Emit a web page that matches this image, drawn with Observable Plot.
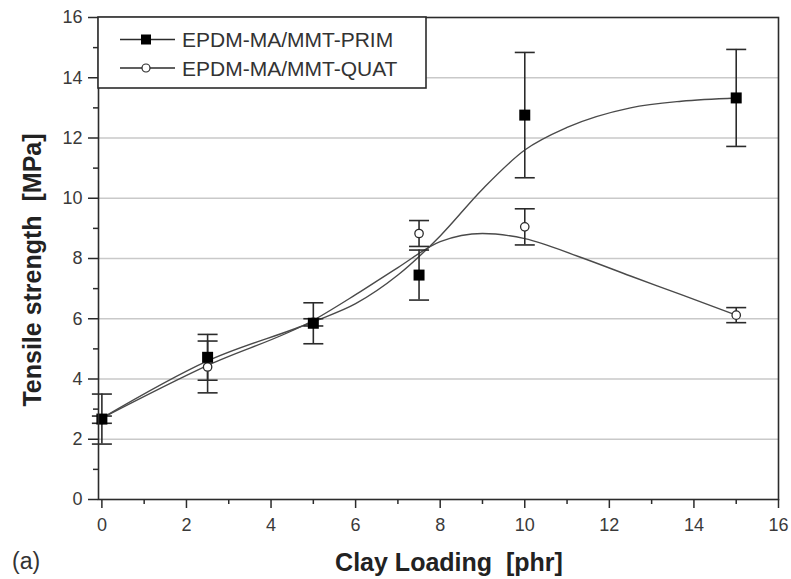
<!DOCTYPE html>
<html>
<head>
<meta charset="utf-8">
<script src="https://cdn.jsdelivr.net/npm/d3@7"></script>
<script src="https://cdn.jsdelivr.net/npm/@observablehq/plot@0.6"></script>
<style>
  html, body { margin: 0; padding: 0; background: white; }
  #chart { width: 791px; height: 579px; }
  text { white-space: pre; }
</style>
</head>
<body>
<div id="chart"></div>
<script>
// ---- data ----
const loading = [0, 2.5, 5, 7.5, 10, 15];
const primValues = [2.67, 4.72, 5.85, 7.45, 12.76, 13.33];
const primErrors = [0.83, 0.76, 0.68, 0.83, 2.08, 1.61];
const quatValues = [2.65, 4.40, 5.88, 8.83, 9.05, 6.12];
const quatErrors = [0.12, 0.86, 0.12, 0.43, 0.60, 0.25];

// smoothed fit curves
const primCurveX = [0, 2.5, 5, 6, 7, 8, 9, 10, 11, 12.5, 13.7, 15];
const primCurveY = [2.7, 4.6, 5.9, 6.5, 7.45, 8.75, 10.3, 11.6, 12.35, 13.0, 13.22, 13.33];
const quatCurveX = [0, 2.5, 5, 6, 7, 8, 9, 10, 11.3, 12.5, 13.7, 15];
const quatCurveY = [2.7, 4.45, 5.95, 6.8, 7.7, 8.56, 8.83, 8.66, 8.05, 7.42, 6.8, 6.12];

const seriesNames = ["EPDM-MA/MMT-PRIM", "EPDM-MA/MMT-QUAT"];
const xTicks = [0, 2, 4, 6, 8, 10, 12, 14, 16];
const xMinorTicks = [1, 3, 5, 7, 9, 11, 13, 15];
const yTicks = [0, 2, 4, 6, 8, 10, 12, 14, 16];
const yMinorTicks = [1, 3, 5, 7, 9, 11, 13, 15];
const yGridLines = [2, 4, 6, 8, 10, 12, 14];
const xTitle = "Clay Loading  [phr]";
const yTitle = "Tensile strength  [MPa]";
const panelTag = "(a)";

// ---- tables built from the arrays ----
const prim = loading.map((x, i) => ({x, y: primValues[i], lo: primValues[i] - primErrors[i], hi: primValues[i] + primErrors[i]}));
const quat = loading.map((x, i) => ({x, y: quatValues[i], lo: quatValues[i] - quatErrors[i], hi: quatValues[i] + quatErrors[i]}));
const primCurve = primCurveX.map((x, i) => ({x, y: primCurveY[i]}));
const quatCurve = quatCurveX.map((x, i) => ({x, y: quatCurveY[i]}));

const capSymbol = { draw(ctx) { ctx.moveTo(-10, 0); ctx.lineTo(10, 0); } };

const ink = "#2b2b2b";
const curveInk = "#4a4a4a";

const chart = Plot.plot({
  width: 791,
  height: 579,
  marginLeft: 98,
  marginRight: 13,
  marginTop: 17,
  marginBottom: 80,
  style: { fontFamily: "'Liberation Sans', Arial, sans-serif", background: "white", color: ink },
  x: { domain: [-0.08, 16] },
  y: { domain: [0, 16] },
  marks: [
    Plot.gridY(yGridLines, { stroke: "#c9c9c9", strokeOpacity: 1, strokeWidth: 1.5 }),
    Plot.axisX(xTicks, { tickSize: 9, tickPadding: 10, fontSize: 18, label: null, strokeWidth: 1.5, fill: "#3a3a3a" }),
    Plot.axisX(xMinorTicks, { tickSize: 5, tickFormat: () => "", label: null, strokeWidth: 1.5 }),
    Plot.axisY(yTicks, { tickSize: 10, tickPadding: 6, fontSize: 18, label: null, strokeWidth: 1.5, fill: "#3a3a3a" }),
    Plot.axisY(yMinorTicks, { tickSize: 5, tickFormat: () => "", label: null, strokeWidth: 1.5 }),
    Plot.line(quatCurve, { x: "x", y: "y", curve: "monotone-x", stroke: curveInk, strokeWidth: 1.4 }),
    Plot.line(primCurve, { x: "x", y: "y", curve: "monotone-x", stroke: curveInk, strokeWidth: 1.4 }),
    Plot.ruleX(quat, { x: "x", y1: "lo", y2: "hi", stroke: ink, strokeWidth: 1.6 }),
    Plot.dot(quat, { x: "x", y: "lo", symbol: capSymbol, stroke: ink, strokeWidth: 1.6 }),
    Plot.dot(quat, { x: "x", y: "hi", symbol: capSymbol, stroke: ink, strokeWidth: 1.6 }),
    Plot.ruleX(prim, { x: "x", y1: "lo", y2: "hi", stroke: ink, strokeWidth: 1.6 }),
    Plot.dot(prim, { x: "x", y: "lo", symbol: capSymbol, stroke: ink, strokeWidth: 1.6 }),
    Plot.dot(prim, { x: "x", y: "hi", symbol: capSymbol, stroke: ink, strokeWidth: 1.6 }),
    Plot.dot(quat, { x: "x", y: "y", symbol: "circle", r: 4.2, fill: "white", stroke: ink, strokeWidth: 1.3 }),
    Plot.dot(prim, { x: "x", y: "y", symbol: "square", r: 6.2, fill: "black", stroke: "none" }),
    Plot.frame({ stroke: ink, strokeWidth: 1.6 })
  ]
});

document.getElementById("chart").appendChild(chart);

// ---- legend and titles ----
const svg = d3.select(chart);
const leg = svg.append("g").attr("text-anchor", "start");
leg.append("rect").attr("x", 98).attr("y", 17).attr("width", 328).attr("height", 71)
  .attr("fill", "white").attr("stroke", ink).attr("stroke-width", 1.6);
const rowsY = [39.5, 68];
seriesNames.forEach((name, i) => {
  const y = rowsY[i];
  leg.append("line").attr("x1", 120).attr("x2", 175).attr("y1", y).attr("y2", y)
    .attr("stroke", ink).attr("stroke-width", 1.5);
  if (i === 0) {
    leg.append("rect").attr("x", 141).attr("y", y - 5).attr("width", 10).attr("height", 10).attr("fill", "black");
  } else {
    leg.append("circle").attr("cx", 146).attr("cy", y).attr("r", 4).attr("fill", "white")
      .attr("stroke", ink).attr("stroke-width", 1.2);
  }
  leg.append("text").attr("x", 182).attr("y", y).attr("dy", "0.36em")
    .attr("text-anchor", "start").attr("font-size", 21).attr("fill", "#333").text(name);
});

svg.append("text").attr("x", 449).attr("y", 562).attr("dy", "0.36em")
  .attr("text-anchor", "middle").attr("font-size", 25).attr("font-weight", "bold")
  .attr("fill", "#222").text(xTitle);
svg.append("text").attr("transform", "translate(32,270) rotate(-90)").attr("dy", "0.36em")
  .attr("text-anchor", "middle").attr("font-size", 25).attr("font-weight", "bold")
  .attr("fill", "#222").text(yTitle);
svg.append("text").attr("x", 12).attr("y", 561).attr("dy", "0.36em")
  .attr("text-anchor", "start").attr("font-size", 23).attr("fill", "#333").text(panelTag);
</script>
</body>
</html>
